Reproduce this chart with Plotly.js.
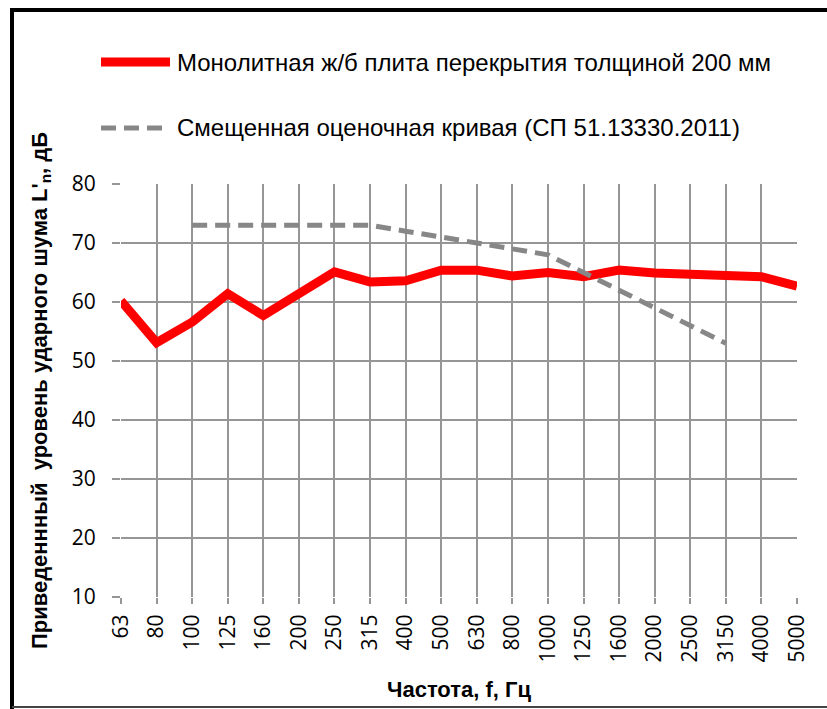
<!DOCTYPE html>
<html>
<head>
<meta charset="utf-8">
<script src="https://cdn.plot.ly/plotly-3.0.1.min.js"></script>
<style>
html,body{margin:0;padding:0;background:#fff;}
#chart{width:827px;height:709px;}
</style>
</head>
<body>
<div id="chart"></div>
<script>
// Data
var frequencies = ["63","80","100","125","160","200","250","315","400","500","630","800","1000","1250","1600","2000","2500","3150","4000","5000"];
var slabValues = [60.2, 53.1, 56.6, 61.4, 57.7, 61.4, 65.1, 63.4, 63.6, 65.4, 65.4, 64.4, 65.0, 64.3, 65.4, 64.9, 64.8, 64.7, 64.3, 62.7];
var refFrequencies = ["100","125","160","200","250","315","400","500","630","800","1000","1250","1600","2000","2500","3150"];
var refValues = [73, 73, 73, 73, 73, 73, 72, 71, 70, 69, 68, 65, 62, 59, 56, 53];
var slabName = "Монолитная ж/б плита перекрытия толщиной 200 мм";
var refName = "Смещенная оценочная кривая (СП 51.13330.2011)";
var yTicks = [10, 20, 30, 40, 50, 60, 70, 80];

var L = 121, R = 30, T = 184, B = 112, W = 827, H = 709;
var pw = W - L - R, ph = H - T - B;
function px(x){ return (x - L) / pw; }
function py(y){ return (H - B - y) / ph; }

var narrow = "Liberation Sans Narrow, Arial Narrow, sans-serif";
var tickFont = {family: "Open Sans, sans-serif", size: 21, color: "#000"};

var traces = [
  {x: frequencies, y: slabValues, type: "scatter", mode: "lines", name: slabName,
   line: {color: "#ff0000", width: 9}, showlegend: false, hoverinfo: "x+y"},
  {x: refFrequencies, y: refValues, type: "scatter", mode: "lines", name: refName,
   line: {color: "#878787", width: 5, dash: "15px,8px"}, showlegend: false, hoverinfo: "x+y"}
];

var layout = {
  width: W, height: H,
  margin: {l: L, r: R, t: T, b: B},
  paper_bgcolor: "#ffffff", plot_bgcolor: "#ffffff",
  showlegend: false,
  xaxis: {
    type: "category", categoryorder: "array", categoryarray: frequencies,
    range: [0, frequencies.length - 1],
    showgrid: true, gridcolor: "#969696", gridwidth: 2,
    showline: false, zeroline: false,
    ticks: "outside", ticklen: 6, tickwidth: 2, tickcolor: "#969696",
    tickangle: -90, ticklabelstandoff: 2,
    tickfont: tickFont,
    title: {text: "Частота, f, Гц", font: {family: narrow, size: 22, color: "#000", weight: "bold"}, standoff: 20}
  },
  yaxis: {
    range: [10, 80], tickvals: yTicks, ticktext: yTicks.map(String),
    showgrid: true, gridcolor: "#969696", gridwidth: 2,
    showline: false, zeroline: false,
    ticks: "outside", ticklen: 8, tickwidth: 2, tickcolor: "#969696",
    ticklabelstandoff: 12,
    tickfont: tickFont,
    title: {text: "Приведеннный  уровень ударного шума L'<sub>n</sub>, дБ", font: {family: narrow, size: 22, color: "#000", weight: "bold"}, standoff: 18}
  },
  shapes: [
    {type: "line", xref: "paper", yref: "paper", x0: px(10), x1: px(830), y0: py(10), y1: py(10),
     line: {color: "#000", width: 4}},
    {type: "line", xref: "paper", yref: "paper", x0: px(12), x1: px(12), y0: py(8), y1: py(709),
     line: {color: "#000", width: 4}},
    {type: "line", xref: "paper", yref: "paper", x0: px(12), x1: px(830), y0: py(707), y1: py(707),
     line: {color: "#444", width: 2}},
    {type: "line", xref: "paper", yref: "paper", x0: px(101), x1: px(170), y0: py(62), y1: py(62),
     line: {color: "#ff0000", width: 9}},
    {type: "line", xref: "paper", yref: "paper", x0: px(101), x1: px(170), y0: py(128), y1: py(128),
     line: {color: "#878787", width: 5, dash: "15px,8px"}}
  ],
  annotations: [
    {xref: "paper", yref: "paper", x: px(175), y: py(62), xanchor: "left", yanchor: "middle",
     text: slabName, showarrow: false, font: {family: narrow, size: 24, color: "#000"}},
    {xref: "paper", yref: "paper", x: px(175), y: py(128), xanchor: "left", yanchor: "middle",
     text: refName, showarrow: false, font: {family: narrow, size: 24, color: "#000"}}
  ]
};

Plotly.newPlot("chart", traces, layout, {displayModeBar: false, staticPlot: true});
</script>
</body>
</html>
